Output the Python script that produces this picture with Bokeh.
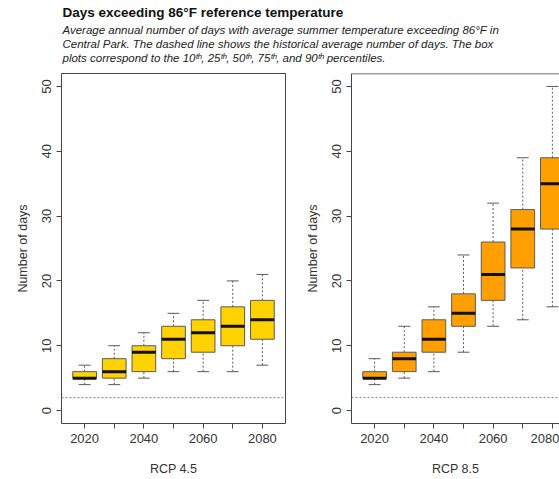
from bokeh.plotting import figure
from bokeh.layouts import column, row
from bokeh.models import FixedTicker, Range1d, Span, ColumnDataSource
from bokeh.core.properties import value
from bokeh.embed import file_html
from bokeh.resources import INLINE

FONT = "Liberation Sans"

years = [2020, 2030, 2040, 2050, 2060, 2070, 2080]
tick_labels = {2020: "2020", 2030: "", 2040: "2040", 2050: "", 2060: "2060", 2070: "", 2080: "2080"}

# percentiles 10, 25, 50, 75, 90
rcp45_p10 = [4, 4, 5, 6, 6, 6, 7]
rcp45_p25 = [5, 5, 6, 8, 9, 10, 11]
rcp45_p50 = [5, 6, 9, 11, 12, 13, 14]
rcp45_p75 = [6, 8, 10, 13, 14, 16, 17]
rcp45_p90 = [7, 10, 12, 15, 17, 20, 21]

rcp85_p10 = [4, 5, 6, 9, 13, 14, 16]
rcp85_p25 = [5, 6, 9, 13, 17, 22, 28]
rcp85_p50 = [5, 8, 11, 15, 21, 28, 35]
rcp85_p75 = [6, 9, 14, 18, 26, 31, 39]
rcp85_p90 = [8, 13, 16, 24, 32, 39, 50]

historical_avg = 2

title = "Days exceeding 86°F reference temperature"
subtitle = [
    "Average annual number of days with average summer temperature exceeding 86°F in",
    "Central Park. The dashed line shows the historical average number of days. The box",
    "plots correspond to the 10ᵗʰ, 25ᵗʰ, 50ᵗʰ, 75ᵗʰ, and 90ᵗʰ percentiles.",
]

BOXW = 8
CAPW = 4
EDGE = "#5a5a5a"

# ---- title figure ----
W, TH = 559, 68
tf = figure(width=W, height=TH, x_range=Range1d(0, W), y_range=Range1d(TH, 0),
            output_backend="svg", toolbar_location=None, min_border=0)
tf.axis.visible = False
tf.grid.visible = False
tf.outline_line_color = None
tf.text(x=[62], y=[12], text=[title], text_font=value(FONT), text_font_size="13.5px",
        text_font_style="bold", text_baseline="middle", text_color="#111111")
tf.text(x=[62] * 3, y=[29, 43, 57], text=subtitle, text_font=value(FONT),
        text_font_size="11.5px", text_font_style="italic", text_baseline="middle",
        text_color="#222222")


def panel(p10, p25, p50, p75, p90, color, label, width, bl, br, xend, box):
    p = figure(width=width, height=411, x_range=Range1d(2012.2, xend), y_range=Range1d(-2, 52),
               output_backend="svg", toolbar_location=None,
               min_border_left=bl, min_border_right=br, min_border_top=5, min_border_bottom=56)
    p.grid.visible = False
    p.background_fill_color = "white"
    src = ColumnDataSource(dict(x=years, p10=p10, p25=p25, p50=p50, p75=p75, p90=p90))
    # dashed historical line
    p.add_layout(Span(location=historical_avg, dimension="width", line_color="#808080",
                      line_dash="2 2", line_width=1))
    # whiskers
    p.segment(x0="x", y0="p75", x1="x", y1="p90", source=src, line_color=EDGE, line_dash="2 2", line_width=1)
    p.segment(x0="x", y0="p10", x1="x", y1="p25", source=src, line_color=EDGE, line_dash="2 2", line_width=1)
    # caps
    xs = [y - CAPW / 2 for y in years]
    xe = [y + CAPW / 2 for y in years]
    p.segment(x0=xs, y0=p90, x1=xe, y1=p90, line_color=EDGE, line_width=1)
    p.segment(x0=xs, y0=p10, x1=xe, y1=p10, line_color=EDGE, line_width=1)
    # boxes
    p.vbar(x="x", bottom="p25", top="p75", width=BOXW, source=src, fill_color=color,
           line_color=EDGE, line_width=1)
    # medians
    bx0 = [y - BOXW / 2 for y in years]
    bx1 = [y + BOXW / 2 for y in years]
    p.segment(x0=bx0, y0=p50, x1=bx1, y1=p50, line_color="#111111", line_width=3)

    p.xaxis.ticker = FixedTicker(ticks=years)
    p.xaxis.major_label_overrides = tick_labels
    p.yaxis.ticker = FixedTicker(ticks=[0, 10, 20, 30, 40, 50])
    p.yaxis.major_label_orientation = "vertical"
    for ax in (p.xaxis, p.yaxis):
        ax.major_tick_in = 0
        ax.major_tick_out = 5
        ax.minor_tick_line_color = None
        ax.major_tick_line_color = "#444444"
        ax.major_label_text_font = FONT
        ax.major_label_text_font_size = "13px"
        ax.major_label_text_color = "#333333"
        ax.axis_label_text_font = FONT
        ax.axis_label_text_font_size = "12.5px"
        ax.axis_label_text_font_style = "normal"
        ax.axis_label_text_color = "#333333"
    p.xaxis.major_label_standoff = 5
    p.yaxis.major_label_standoff = 5
    p.xaxis.axis_label = label
    p.xaxis.axis_label_standoff = 16
    p.yaxis.axis_label = "Number of days"
    p.yaxis.axis_label_standoff = 10
    if box:
        p.outline_line_color = "#444444"
        p.xaxis.axis_line_color = None
        p.yaxis.axis_line_color = None
    else:
        p.outline_line_color = None
        p.xaxis.axis_line_color = "#444444"
        p.yaxis.axis_line_color = "#444444"
        p.add_layout(Span(location=52, dimension="width", line_color="#444444", line_width=1.5))
    return p


left = panel(rcp45_p10, rcp45_p25, rcp45_p50, rcp45_p75, rcp45_p90, "#FFD200",
             "RCP 4.5", 290, 61, 5, 2087.8, True)
right = panel(rcp85_p10, rcp85_p25, rcp85_p50, rcp85_p75, rcp85_p90, "#FFA000",
              "RCP 8.5", 269, 61, 0, 2082.4, False)

layout = column(tf, row(left, right, spacing=0), spacing=0)
open("out.html", "w").write(file_html(layout, INLINE))
